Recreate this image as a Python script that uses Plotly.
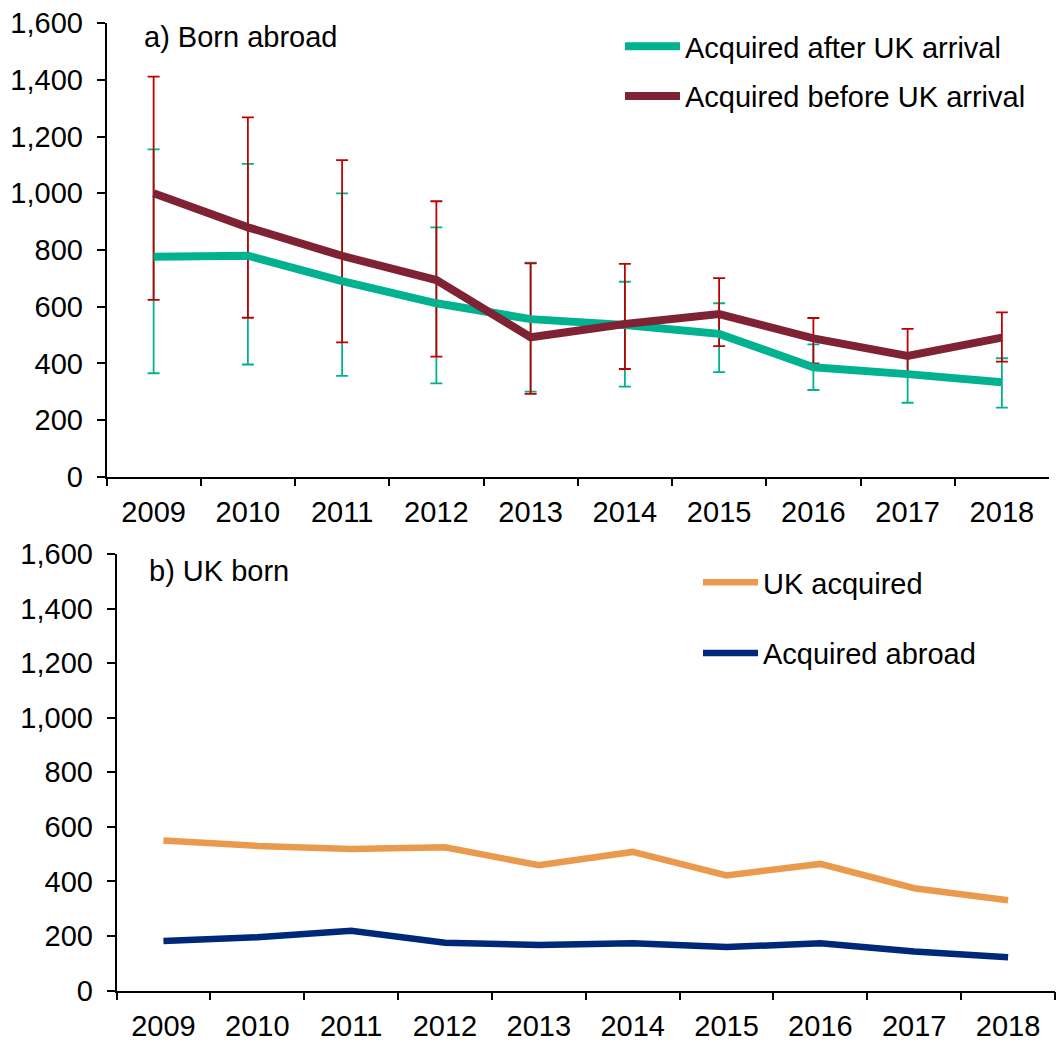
import plotly.graph_objects as go

years = ["2009", "2010", "2011", "2012", "2013", "2014", "2015", "2016", "2017", "2018"]

# Panel a) Born abroad
after_uk = [776, 780, 690, 612, 556, 535, 504, 386, 362, 333]
after_uk_hi = [1155, 1104, 1000, 880, 755, 688, 612, 467, 430, 418]
after_uk_lo = [365, 396, 356, 329, 300, 318, 369, 306, 261, 244]

before_uk = [1000, 880, 779, 694, 492, 539, 574, 488, 426, 491]
before_uk_hi = [1412, 1268, 1117, 972, 753, 751, 701, 560, 522, 580]
before_uk_lo = [624, 561, 474, 424, 292, 380, 461, 400, 358, 406]

# Panel b) UK born
uk_acquired = [550, 530, 519, 525, 459, 508, 422, 464, 375, 331]
acquired_abroad = [181, 195, 219, 175, 167, 173, 159, 173, 143, 122]

TEAL = "#00B28F"
MAROON = "#7F2234"
RED = "#C00000"
ORANGE = "#EA9A4C"
NAVY = "#00287A"
FONT = "Liberation Sans, Arial, sans-serif"
FS = 29

fig = go.Figure()

def err(vals, hi, lo):
    return [h - v for v, h in zip(vals, hi)], [v - l for v, l in zip(vals, lo)]

p, m = err(after_uk, after_uk_hi, after_uk_lo)
fig.add_trace(go.Scatter(x=years, y=after_uk, mode="markers", showlegend=False,
                         marker=dict(size=1, color="rgba(0,0,0,0)"),
                         error_y=dict(type="data", array=p, arrayminus=m, color=TEAL,
                                      thickness=1.8, width=6),
                         xaxis="x", yaxis="y", hoverinfo="skip"))
p, m = err(before_uk, before_uk_hi, before_uk_lo)
fig.add_trace(go.Scatter(x=years, y=before_uk, mode="markers", showlegend=False,
                         marker=dict(size=1, color="rgba(0,0,0,0)"),
                         error_y=dict(type="data", array=p, arrayminus=m, color=RED,
                                      thickness=1.8, width=6),
                         xaxis="x", yaxis="y", hoverinfo="skip"))
fig.add_trace(go.Scatter(x=years, y=after_uk, mode="lines", name="Acquired after UK arrival",
                         line=dict(color=TEAL, width=8), legend="legend", legendgroup="a1",
                         xaxis="x", yaxis="y"))
fig.add_trace(go.Scatter(x=years, y=before_uk, mode="lines", name="Acquired before UK arrival",
                         line=dict(color=MAROON, width=8), legend="legend", legendgroup="a2",
                         xaxis="x", yaxis="y"))

fig.add_trace(go.Scatter(x=years, y=uk_acquired, mode="lines", name="UK acquired",
                         line=dict(color=ORANGE, width=6.5), legend="legend2", legendgroup="b1",
                         xaxis="x2", yaxis="y2"))
fig.add_trace(go.Scatter(x=years, y=acquired_abroad, mode="lines", name="Acquired abroad",
                         line=dict(color=NAVY, width=6.5), legend="legend2", legendgroup="b2",
                         xaxis="x2", yaxis="y2"))

W, H = 1064, 1050

def px_x(a, b):
    return [a / W, b / W]

def px_y(top, bottom):
    return [1 - bottom / H, 1 - top / H]

xcommon = dict(type="category", range=[-0.5, 9.5], showline=True, linecolor="black",
               linewidth=1.5, ticks="outside", ticklen=8, tickwidth=1.5, tickcolor="black",
               tickson="boundaries", showgrid=False, zeroline=False, ticklabelstandoff=9,
               tickfont=dict(family=FONT, size=FS, color="black"), automargin=False,
               fixedrange=True)
ycommon = dict(range=[0, 1600], dtick=200, tickformat=",", showline=True, linecolor="black",
               linewidth=1.5, ticks="outside", ticklen=8, tickwidth=1.5, tickcolor="black",
               showgrid=False, zeroline=False, ticklabelstandoff=8,
               tickfont=dict(family=FONT, size=FS, color="black"), automargin=False,
               fixedrange=True)

fig.update_layout(
    width=W, height=H,
    margin=dict(l=0, r=0, t=0, b=0),
    paper_bgcolor="white", plot_bgcolor="white",
    font=dict(family=FONT, size=FS, color="black"),
    xaxis=dict(domain=px_x(106.5, 1049), anchor="y", **xcommon),
    yaxis=dict(domain=px_y(23.3, 476.7), anchor="x", **ycommon),
    xaxis2=dict(domain=px_x(116.5, 1055), anchor="y2", **xcommon),
    yaxis2=dict(domain=px_y(554, 990.5), anchor="x2", **ycommon),
    legend=dict(x=620 / W, y=1 - 21 / H, xanchor="left", yanchor="top",
                bgcolor="rgba(0,0,0,0)", itemwidth=55, tracegroupgap=9,
                font=dict(family=FONT, size=FS, color="black")),
    legend2=dict(x=698 / W, y=1 - 557 / H, xanchor="left", yanchor="top",
                 bgcolor="rgba(0,0,0,0)", itemwidth=55, tracegroupgap=30,
                 font=dict(family=FONT, size=FS, color="black")),
    annotations=[
        dict(text="a) Born abroad", x=142 / W, y=1 - 37 / H, xref="paper", yref="paper",
             xanchor="left", yanchor="middle", showarrow=False,
             font=dict(family=FONT, size=FS, color="black")),
        dict(text="b) UK born", x=147 / W, y=1 - 571 / H, xref="paper", yref="paper",
             xanchor="left", yanchor="middle", showarrow=False,
             font=dict(family=FONT, size=FS, color="black")),
    ],
)

fig.write_html("out.html", config={"displayModeBar": False},
               post_script="document.body.style.margin='0';")
